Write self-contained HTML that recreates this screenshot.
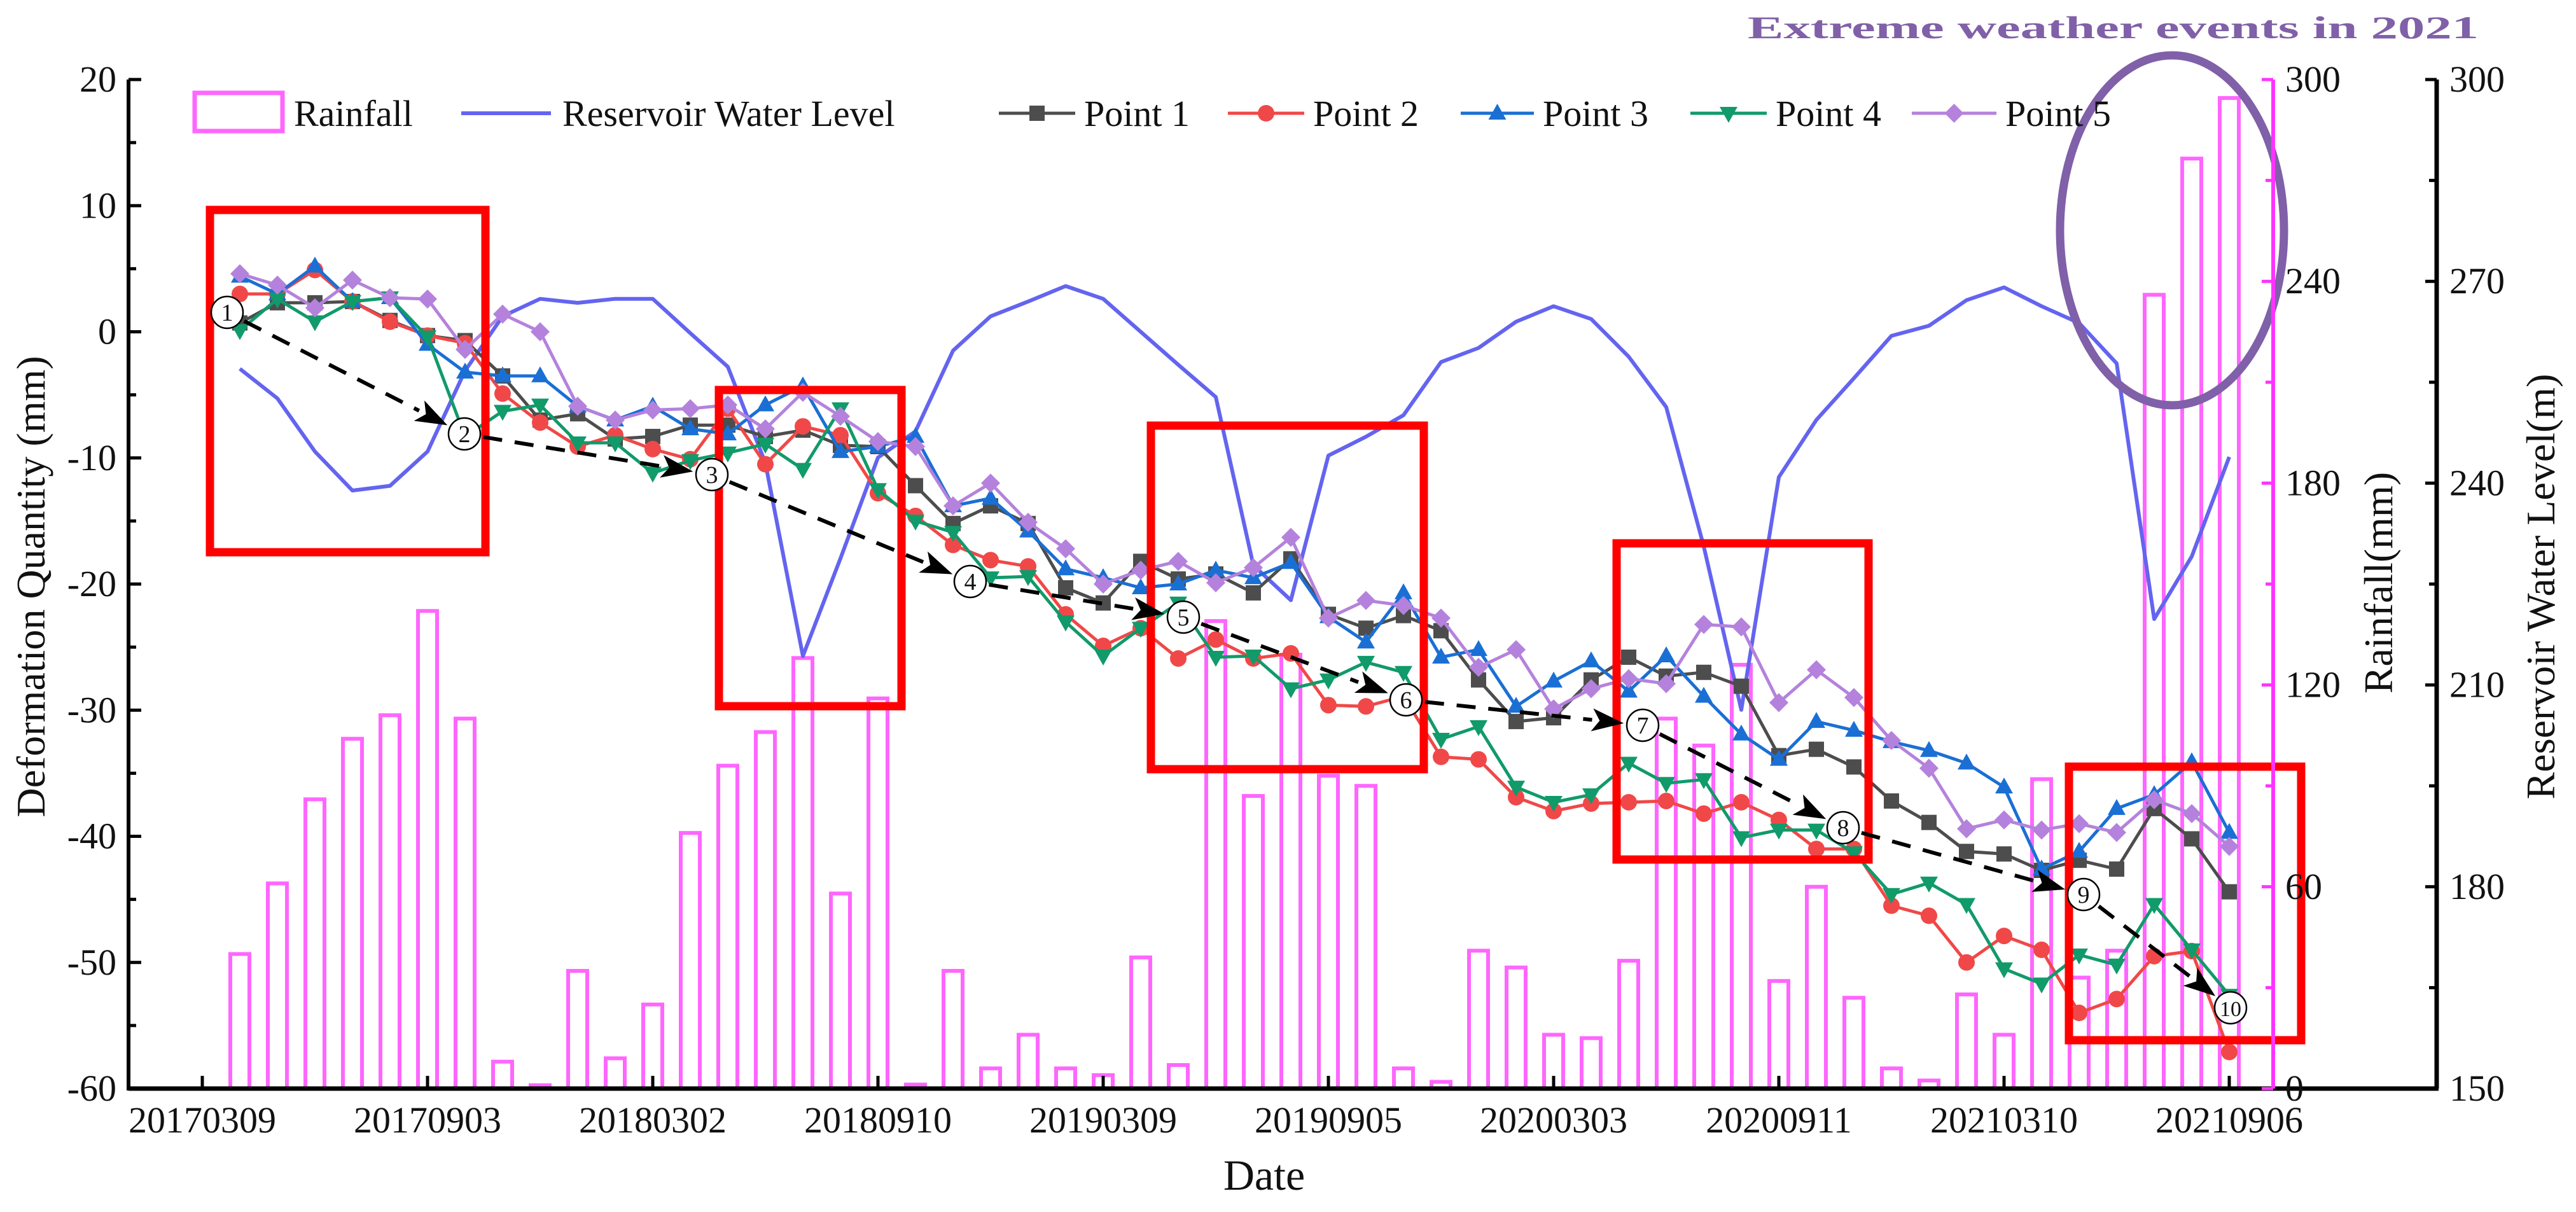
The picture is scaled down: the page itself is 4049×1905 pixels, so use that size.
<!DOCTYPE html>
<html><head><meta charset="utf-8"><style>
html,body{margin:0;padding:0;background:#fff}
svg{display:block}
text{font-family:"Liberation Serif",serif;fill:#111}
</style></head><body>
<svg id="chart" width="4049" height="1905" viewBox="0 0 4049 1905" xmlns="http://www.w3.org/2000/svg">
<g id="bars"></g>
<g id="wl"></g>
<g id="series"></g>
<g id="annot"></g>
<g id="axes"></g>
<g id="legend"></g>
<text x="2747" y="60" font-size="50" font-weight="bold" textLength="1149" lengthAdjust="spacingAndGlyphs" style="fill:#8060a8">Extreme weather events in 2021</text>
<text transform="translate(70,922) rotate(-90)" text-anchor="middle" font-size="64">Deformation Quantity (mm)</text>
<text transform="translate(3760,916) rotate(-90)" text-anchor="middle" font-size="64">Rainfall(mm)</text>
<text transform="translate(4015,922) rotate(-90)" text-anchor="middle" font-size="64">Reservoir Water Level(m)</text>
<text x="1987" y="1870" text-anchor="middle" font-size="68">Date</text>
</svg>
<script>
const xTickLabels = ["20170309","20170903","20180302","20180910","20190309","20190905","20200303","20200911","20210310","20210906"];
const yTicks = [20,10,0,-10,-20,-30,-40,-50,-60];
const rainTicks = [0,60,120,180,240,300];
const wlTicks = [150,180,210,240,270,300];
const rainfall = [40,61,86,104,111,142,110,8,1,35,9,25,76,96,106,128,58,116,1.2,35,6,16,6,4,39,7,139,87,129,93,90,6,2,41,36,16,15,38,110,102,126,32,60,27,6,2.4,28,16,92,33,41,236,276.5,294.5];
const waterLevel = [257.0,252.6,244.7,238.9,239.6,244.7,256.7,264.8,267.4,266.8,267.4,267.4,262.3,257.3,243.0,214.3,228.8,243.8,247.7,259.7,264.8,267.0,269.3,267.4,262.5,257.6,252.8,227.8,222.6,244.1,246.9,250.1,258.0,260.1,264.0,266.3,264.4,258.8,251.3,230.6,206.3,240.9,249.4,255.6,261.9,263.4,267.2,269.1,266.3,263.8,257.8,219.8,229.1,243.9];
const point1 = [0.7,2.3,2.3,2.4,0.9,-0.3,-0.7,-3.5,-7.0,-6.5,-8.5,-8.3,-7.4,-7.4,-8.3,-7.8,-9.0,-9.1,-12.2,-15.2,-13.8,-15.2,-20.3,-21.5,-18.2,-19.6,-19.2,-20.7,-18.0,-22.4,-23.5,-22.5,-23.7,-27.6,-30.9,-30.6,-27.6,-25.8,-27.3,-27.0,-28.1,-33.6,-33.1,-34.5,-37.2,-38.9,-41.2,-41.4,-42.7,-41.9,-42.6,-37.8,-40.2,-44.4];
const point2 = [3.0,3.0,4.9,2.4,0.8,-0.3,-0.9,-4.9,-7.2,-9.1,-8.2,-9.3,-10.1,-6.1,-10.5,-7.5,-8.2,-12.8,-14.6,-16.9,-18.1,-18.6,-22.4,-24.9,-23.5,-25.9,-24.4,-25.9,-25.5,-29.6,-29.7,-28.9,-33.7,-33.9,-36.9,-38.0,-37.4,-37.3,-37.2,-38.2,-37.3,-38.7,-41.0,-41.0,-45.5,-46.3,-50.0,-47.9,-49.0,-54.0,-52.9,-49.5,-49.1,-57.1];
const point3 = [4.4,3.0,5.2,2.4,2.7,-1.0,-3.2,-3.5,-3.5,-5.9,-7.0,-5.9,-7.7,-8.1,-5.8,-4.3,-9.5,-9.1,-8.3,-13.8,-13.2,-15.8,-18.8,-19.5,-20.3,-20.0,-18.9,-19.5,-18.3,-22.6,-24.6,-20.7,-25.8,-25.2,-29.7,-27.7,-26.1,-28.5,-25.7,-28.9,-31.9,-33.9,-30.9,-31.6,-32.5,-33.2,-34.2,-36.1,-42.6,-41.2,-37.8,-36.7,-34.1,-39.7];
const point4 = [0.1,2.6,0.8,2.4,2.7,-0.4,-8.3,-6.3,-5.8,-8.8,-8.8,-11.2,-10.2,-9.6,-8.9,-10.9,-6.1,-12.5,-15.0,-15.9,-19.5,-19.4,-23.0,-25.7,-23.5,-21.5,-25.8,-25.7,-28.3,-27.6,-26.2,-27.0,-32.3,-31.3,-36.1,-37.3,-36.7,-34.2,-35.8,-35.5,-40.1,-39.5,-39.5,-41.3,-44.6,-43.7,-45.4,-50.5,-51.7,-49.4,-50.2,-45.4,-49.0,-52.6];
const point5 = [4.6,3.7,1.9,4.1,2.7,2.6,-1.4,1.4,0.0,-5.9,-7.0,-6.2,-6.1,-5.8,-7.7,-4.8,-6.7,-8.7,-9.1,-13.8,-12.0,-15.1,-17.2,-20.0,-18.9,-18.2,-19.9,-18.7,-16.3,-22.7,-21.3,-21.7,-22.7,-26.6,-25.2,-29.9,-28.3,-27.5,-27.9,-23.2,-23.4,-29.4,-26.8,-29.0,-32.4,-34.6,-39.4,-38.7,-39.5,-39.0,-39.7,-37.1,-38.2,-40.8];

const NS="http://www.w3.org/2000/svg";
const X0=202, X1=3830, YT=125, YB=1711, XR=3573;
function xOf(i){return 318+59*(i+1);}
function yMM(v){return YB-(v+60)*(YB-YT)/80;}
function yRain(r){return YB-r*(YB-YT)/300;}
function yWL(w){return YB-(w-150)*(YB-YT)/150;}
function mk(tag,attrs,parent){const e=document.createElementNS(NS,tag);for(const k in attrs)e.setAttribute(k,attrs[k]);parent.appendChild(e);return e;}

const gb=document.getElementById('bars');
rainfall.forEach((r,i)=>{
  const b=mk('rect',{x:xOf(i)-15,y:yRain(r),width:30,height:YB-yRain(r),fill:'none',stroke:'#ff66ff','stroke-width':6},gb);
  
  
});

const gw=document.getElementById('wl');
const wlp=mk('polyline',{points:waterLevel.map((w,i)=>xOf(i)+','+yWL(w)).join(' '),fill:'none',stroke:'#6464f0','stroke-width':6,'stroke-linejoin':'round'},gw);



function marker(type,cx,cy,color,parent){
  let e;const s=12;
  if(type==='square')e=mk('rect',{x:cx-s,y:cy-s,width:2*s,height:2*s,fill:color},parent);
  else if(type==='circle')e=mk('circle',{cx:cx,cy:cy,r:s+1,fill:color},parent);
  else if(type==='up')e=mk('polygon',{points:`${cx},${cy-15} ${cx-14},${cy+10} ${cx+14},${cy+10}`,fill:color},parent);
  else if(type==='down')e=mk('polygon',{points:`${cx},${cy+15} ${cx-14},${cy-10} ${cx+14},${cy-10}`,fill:color},parent);
  else e=mk('polygon',{points:`${cx},${cy-15} ${cx+15},${cy} ${cx},${cy+15} ${cx-15},${cy}`,fill:color},parent);
  return e;
}
const seriesDefs=[
  {name:'point-1',data:point1,color:'#4d4d4d',m:'square',label:'Point 1'},
  {name:'point-2',data:point2,color:'#f04848',m:'circle',label:'Point 2'},
  {name:'point-3',data:point3,color:'#1a6fd4',m:'up',label:'Point 3'},
  {name:'point-4',data:point4,color:'#119a6a',m:'down',label:'Point 4'},
  {name:'point-5',data:point5,color:'#b482dc',m:'diamond',label:'Point 5'}];
const gs=document.getElementById('series');
seriesDefs.forEach(sd=>{
  const g=mk('g',{},gs);
  
  
  const pl=mk('polyline',{points:sd.data.map((v,i)=>xOf(i)+','+yMM(v)).join(' '),fill:'none',stroke:sd.color,'stroke-width':5},g);
  
  
  sd.data.forEach((v,i)=>{
    const m=marker(sd.m,xOf(i),yMM(v),sd.color,g);
    
    
  });
});

const ga=document.getElementById('annot');
const boxes=[[330,330,763,868],[1130,613,1417,1110],[1809,669,2238,1209],[2541,854,2937,1351],[3252,1205,3617,1635]];
boxes.forEach(b=>{
  const r=mk('rect',{x:b[0],y:b[1],width:b[2]-b[0],height:b[3]-b[1],fill:'none',stroke:'#ff0000','stroke-width':13},ga);
  
  
});
const ell=mk('ellipse',{cx:3414,cy:362,rx:176,ry:275,fill:'none',stroke:'#8060a8','stroke-width':13},ga);


const circ=[[357,491],[730,682],[1119,746],[1525,914],[1860,970],[2210,1100],[2582,1140],[2897,1301],[3275,1406],[3506,1584]];
const labels=['1','2','3','4','5','6','7','8','9','10'];
for(let k=0;k<circ.length-1;k++){
  const [ax,ay]=circ[k],[bx,by]=circ[k+1];
  const dx=bx-ax,dy=by-ay,L=Math.hypot(dx,dy),ux=dx/L,uy=dy/L;
  const sx=ax+ux*30,sy=ay+uy*30,ex=bx-ux*30,ey=by-uy*30;
  const hx=ex-ux*50,hy=ey-uy*50;
  const ln=mk('line',{x1:sx,y1:sy,x2:hx,y2:hy,stroke:'#000','stroke-width':6,'stroke-dasharray':'30 20'},ga);
  
  
  const px=-uy,py=ux;
  const ah=mk('polygon',{points:`${ex},${ey} ${hx+px*18},${hy+py*18} ${hx+ux*12},${hy+uy*12} ${hx-px*18},${hy-py*18}`,fill:'#000'},ga);
  
  
}
circ.forEach((c,k)=>{
  const g=mk('g',{},ga);
  
  
  mk('circle',{cx:c[0],cy:c[1],r:25,fill:'#fff',stroke:'#000','stroke-width':2.5},g);
  const t=mk('text',{x:c[0],y:c[1]+13,'text-anchor':'middle','font-size':labels[k].length>1?34:38},g);
  t.textContent=labels[k];
});

const gx=document.getElementById('axes');
mk('line',{x1:X0,y1:YT,x2:X0,y2:YB+3,stroke:'#000','stroke-width':6},gx);
mk('line',{x1:X0,y1:YB,x2:X1+3,y2:YB,stroke:'#000','stroke-width':7},gx);
mk('line',{x1:X1,y1:YT,x2:X1,y2:YB,stroke:'#000','stroke-width':7},gx);
mk('line',{x1:XR,y1:YT,x2:XR,y2:YB,stroke:'#ff33ff','stroke-width':6},gx);
yTicks.forEach(v=>{
  const y=yMM(v);
  mk('line',{x1:X0,y1:y,x2:X0+20,y2:y,stroke:'#000','stroke-width':5},gx);
  if(v>-60)mk('line',{x1:X0,y1:y+(YB-YT)/16,x2:X0+12,y2:y+(YB-YT)/16,stroke:'#000','stroke-width':5},gx);
  const t=mk('text',{x:183,y:y+19,'text-anchor':'end','font-size':58},gx);
  
  
  t.textContent=v;
});
xTickLabels.forEach((s,k)=>{
  const x=xOf(6*k-1);
  mk('line',{x1:x,y1:YB,x2:x,y2:YB-20,stroke:'#000','stroke-width':5},gx);
  const t=mk('text',{x:x,y:1780,'text-anchor':'middle','font-size':58},gx);
  
  
  t.textContent=s;
});
rainTicks.forEach(r=>{
  const y=yRain(r);
  mk('line',{x1:XR-18,y1:y,x2:XR,y2:y,stroke:'#ff33ff','stroke-width':5},gx);
  if(r<300)mk('line',{x1:XR-12,y1:yRain(r+30),x2:XR,y2:yRain(r+30),stroke:'#ff33ff','stroke-width':5},gx);
  const t=mk('text',{x:3592,y:y+19,'font-size':58},gx);
  
  
  t.textContent=r;
});
wlTicks.forEach(w=>{
  const y=yWL(w);
  mk('line',{x1:X1-18,y1:y,x2:X1,y2:y,stroke:'#000','stroke-width':5},gx);
  if(w<300)mk('line',{x1:X1-12,y1:yWL(w+15),x2:X1,y2:yWL(w+15),stroke:'#000','stroke-width':5},gx);
  const t=mk('text',{x:3850,y:y+19,'font-size':58},gx);
  
  
  t.textContent=w;
});

const gl=document.getElementById('legend');
const lr=mk('rect',{x:306,y:146,width:138,height:60,fill:'none',stroke:'#ff66ff','stroke-width':7},gl);


let t=mk('text',{x:462,y:198,'font-size':58},gl);t.textContent='Rainfall';


mk('line',{x1:725,y1:178,x2:866,y2:178,stroke:'#6464f0','stroke-width':6},gl);
t=mk('text',{x:884,y:198,'font-size':58},gl);t.textContent='Reservoir Water Level';


const lx=[[1570,1704],[1930,2064],[2296,2425],[2657,2791],[3005,3152]];
seriesDefs.forEach((sd,k)=>{
  const g=mk('g',{},gl);
  
  
  mk('line',{x1:lx[k][0],y1:178,x2:lx[k][1]-14,y2:178,stroke:sd.color,'stroke-width':5},g);
  marker(sd.m,(lx[k][0]+lx[k][1]-14)/2,178,sd.color,g);
  const tt=mk('text',{x:lx[k][1],y:198,'font-size':58},g);tt.textContent=sd.label;
});
</script>
</body></html>
